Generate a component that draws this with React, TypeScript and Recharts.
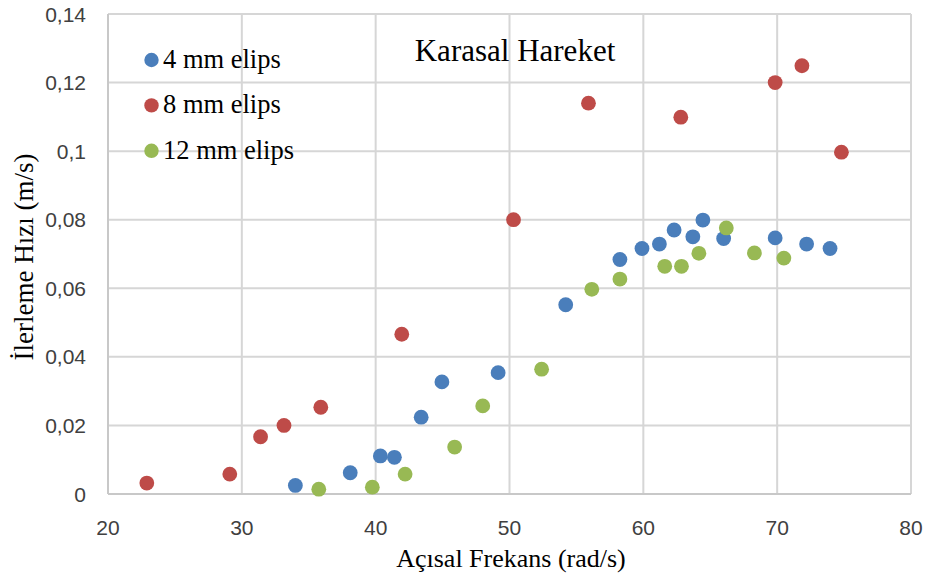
import React from 'react';
import { ScatterChart, Scatter, XAxis, YAxis, CartesianGrid, Legend, Label } from 'recharts';

const seriesNames = ['4 mm elips', '8 mm elips', '12 mm elips'];
const seriesColors = ['#4A7EBB', '#BE4B48', '#98B954'];

const x4 = [34.0, 38.1, 40.35, 41.4, 43.4, 44.95, 49.15, 54.2, 58.25, 59.9, 61.2, 62.3, 63.7, 64.45, 66.0, 69.85, 72.2, 73.95];
const y4 = [0.0025, 0.0062, 0.0111, 0.0107, 0.0224, 0.0327, 0.0354, 0.0552, 0.0684, 0.0716, 0.0729, 0.077, 0.075, 0.0799, 0.0745, 0.0747, 0.0729, 0.0716];

const x8 = [22.9, 29.1, 31.4, 33.15, 35.9, 41.95, 50.3, 55.9, 62.8, 69.85, 71.85, 74.8];
const y8 = [0.0032, 0.0058, 0.0167, 0.02, 0.0253, 0.0466, 0.08, 0.114, 0.1099, 0.12, 0.1249, 0.0997];

const x12 = [35.75, 39.75, 42.2, 45.9, 48.0, 52.4, 56.15, 58.25, 61.6, 62.85, 64.15, 66.2, 68.3, 70.5];
const y12 = [0.0014, 0.002, 0.0058, 0.0137, 0.0257, 0.0364, 0.0597, 0.0627, 0.0664, 0.0664, 0.0702, 0.0776, 0.0703, 0.0688];

const xTicks = [20, 30, 40, 50, 60, 70, 80];
const yTicks = [0, 0.02, 0.04, 0.06, 0.08, 0.1, 0.12, 0.14];

const chartTitle = 'Karasal Hareket';
const xTitle = 'Açısal Frekans (rad/s)';
const yTitle = 'İlerleme Hızı (m/s)';

const toPoints = (xs: number[], ys: number[]) => xs.map((x, i) => ({ x, y: ys[i] }));
const data4 = toPoints(x4, y4);
const data8 = toPoints(x8, y8);
const data12 = toPoints(x12, y12);

const SERIF = '"Liberation Serif", "Times New Roman", serif';
const SANS = '"Liberation Sans", Arial, sans-serif';

const fmt = (v: number) => String(v).replace('.', ',');

const Dot = (color: string) => (props: any) => (
  <circle cx={props.cx} cy={props.cy} r={7.4} fill={color} stroke="none" />
);

const XTick = (props: any) => (
  <text x={props.x} y={527} textAnchor="middle" dominantBaseline="central" fontFamily={SANS} fontSize={21} fill="#404040">
    {fmt(props.payload.value)}
  </text>
);

const YTick = (props: any) => (
  <text x={86} y={props.y} textAnchor="end" dominantBaseline="central" fontFamily={SANS} fontSize={21} fill="#404040">
    {fmt(props.payload.value)}
  </text>
);

const LegendContent = (props: any) => {
  const payload = [...(props.payload || [])].sort(
    (a: any, b: any) => seriesNames.indexOf(a.value) - seriesNames.indexOf(b.value)
  );
  return (
    <svg width={931} height={578} style={{ position: 'absolute', left: 0, top: 0 }}>
      <text x={515} y={61} textAnchor="middle" fontFamily={SERIF} fontSize={31} fill="#000">
        {chartTitle}
      </text>
      {payload.map((p: any, i: number) => (
        <g key={i}>
          <circle cx={151.5} cy={60 + i * 45.4} r={7.2} fill={p.color} />
          <text x={163} y={68 + i * 45.4} fontFamily={SERIF} fontSize={26.5} fill="#000">
            {p.value}
          </text>
        </g>
      ))}
    </svg>
  );
};

export default function App() {
  return (
    <div style={{ position: 'absolute', left: 0, top: 0, width: 931, height: 578, background: '#fff' }}>
      <ScatterChart width={931} height={578} margin={{ top: 14, right: 20, bottom: 0, left: 0 }}>
        <CartesianGrid stroke="#D6D6D6" strokeWidth={2} />
        <XAxis
          type="number"
          dataKey="x"
          domain={[20, 80]}
          ticks={xTicks}
          height={84}
          axisLine={{ stroke: '#C8C8C8', strokeWidth: 2 }}
          tickLine={false}
          tick={<XTick />}
          interval={0}
        >
          <Label
            content={() => (
              <text x={511} y={567} textAnchor="middle" fontFamily={SERIF} fontSize={26} fill="#000">
                {xTitle}
              </text>
            )}
          />
        </XAxis>
        <YAxis
          type="number"
          dataKey="y"
          domain={[0, 0.14]}
          ticks={yTicks}
          width={108}
          axisLine={{ stroke: '#C8C8C8', strokeWidth: 2 }}
          tickLine={false}
          tick={<YTick />}
          interval={0}
        >
          <Label
            content={() => (
              <text
                x={33}
                y={257}
                transform="rotate(-90 33 257)"
                textAnchor="middle"
                fontFamily={SERIF}
                fontSize={27}
                fill="#000"
              >
                {yTitle}
              </text>
            )}
          />
        </YAxis>
        <Legend
          layout="vertical"
          align="center"
          verticalAlign="middle"
          width={931}
          height={578}
          itemSorter={null as any}
          wrapperStyle={{ position: 'absolute', left: 0, top: 0, width: 931, height: 578, pointerEvents: 'none' }}
          content={<LegendContent />}
        />
        <Scatter name={seriesNames[0]} data={data4} fill={seriesColors[0]} shape={Dot(seriesColors[0])} isAnimationActive={false} />
        <Scatter name={seriesNames[1]} data={data8} fill={seriesColors[1]} shape={Dot(seriesColors[1])} isAnimationActive={false} />
        <Scatter name={seriesNames[2]} data={data12} fill={seriesColors[2]} shape={Dot(seriesColors[2])} isAnimationActive={false} />
      </ScatterChart>
    </div>
  );
}
